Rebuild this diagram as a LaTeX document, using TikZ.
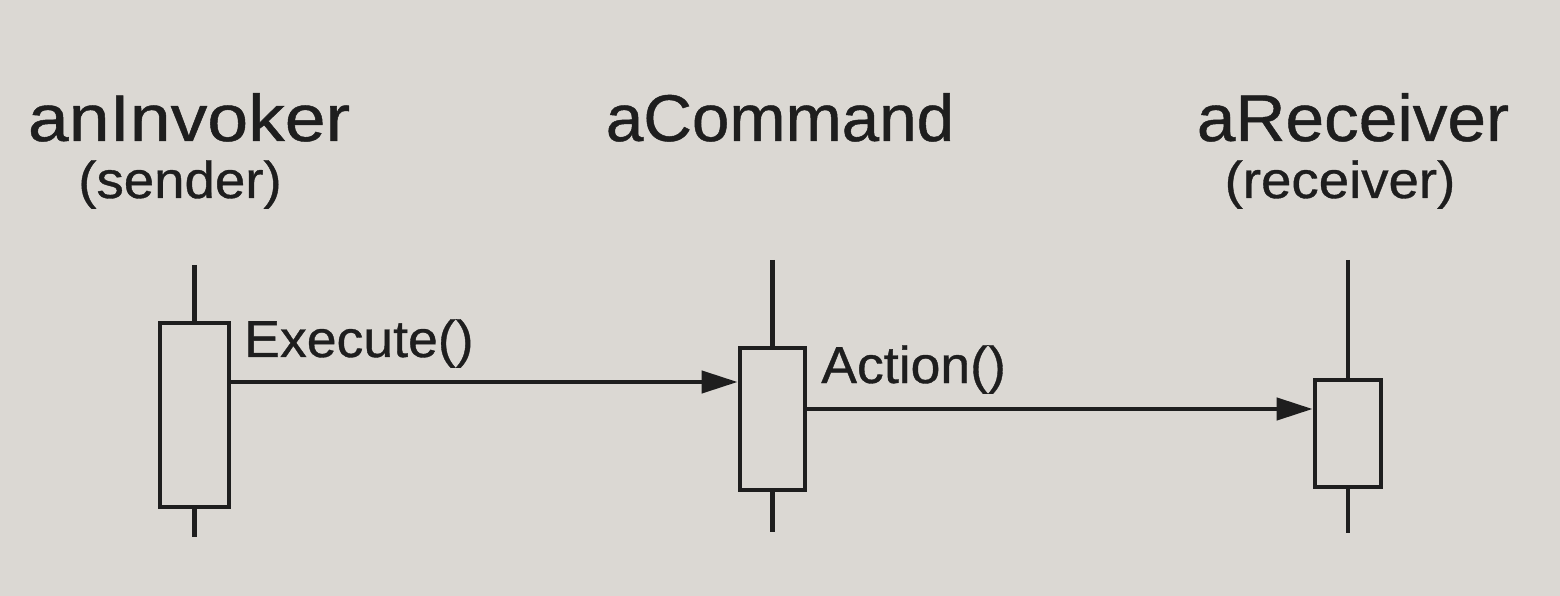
\documentclass[tikz,border=0pt]{standalone}
\usepackage{fontspec}
\setmainfont{Liberation Sans}[FakeBold=0.7]
\usetikzlibrary{arrows.meta}
\definecolor{paper}{RGB}{219,216,211}
\definecolor{ink}{RGB}{30,30,30}
\tikzset{
  title/.style={anchor=base, inner sep=0pt, text=ink, font=\fontsize{47}{50}\selectfont},
  subtitle/.style={anchor=base, inner sep=0pt, text=ink, xscale=1.05, font=\fontsize{37}{40}\selectfont},
  msglabel/.style={anchor=base west, inner sep=0pt, text=ink, xscale=1.03, font=\fontsize{37}{40}\selectfont},
  act/.style={draw=ink, line width=1.2mm, inner sep=0pt, rectangle},
  life/.style={draw=ink, line width=1.1mm},
  msg/.style={draw=ink, line width=1.1mm, -{Triangle[length=9mm,width=5.5mm]}}
}
\begin{document}
\begin{tikzpicture}[x=0.25mm,y=-0.25mm]
\fill[paper] (0,0) rectangle (1560,596);
\useasboundingbox (0,0) rectangle (1560,596);

% headers
\node[title, xscale=1.11] (tInv) at (189,141) {anInvoker};
\node[subtitle] (sInv) at (180,198) {(sender)};
\node[title, xscale=1.02] (tCmd) at (780,141) {aCommand};
\node[title, xscale=1.05] (tRec) at (1353,141) {aReceiver};
\node[subtitle] (sRec) at (1340,198) {(receiver)};

% activation boxes
\node[act, minimum width=17.25mm, minimum height=46mm] (inv) at (194.5,415) {};
\node[act, minimum width=16.25mm, minimum height=35.5mm] (cmd) at (772.5,419) {};
\node[act, minimum width=16.5mm, minimum height=26.75mm] (rec) at (1348,433.5) {};

% lifeline ends
\coordinate (invTop) at (194.5,265);
\coordinate (invBot) at (194.5,537);
\coordinate (cmdTop) at (772.5,260);
\coordinate (cmdBot) at (772.5,532);
\coordinate (recTop) at (1348,260);
\coordinate (recBot) at (1348,533);

\draw[life] (invTop) -- (inv.north);
\draw[life] (inv.south) -- (invBot);
\draw[life] (cmdTop) -- (cmd.north);
\draw[life] (cmd.south) -- (cmdBot);
\draw[life] (recTop) -- (rec.north);
\draw[life] (rec.south) -- (recBot);

% messages
\path ([yshift=8.25mm]inv.east) coordinate (m1);
\draw[msg] (m1) -- (m1 -| cmd.west);
\node[msglabel] (lExec) at (244,357) {Execute()};

\path ([yshift=2.5mm]cmd.east) coordinate (m2);
\draw[msg] (m2) -- (m2 -| rec.west);
\node[msglabel] (lAct) at (821,383) {Action()};
\end{tikzpicture}
\end{document}
